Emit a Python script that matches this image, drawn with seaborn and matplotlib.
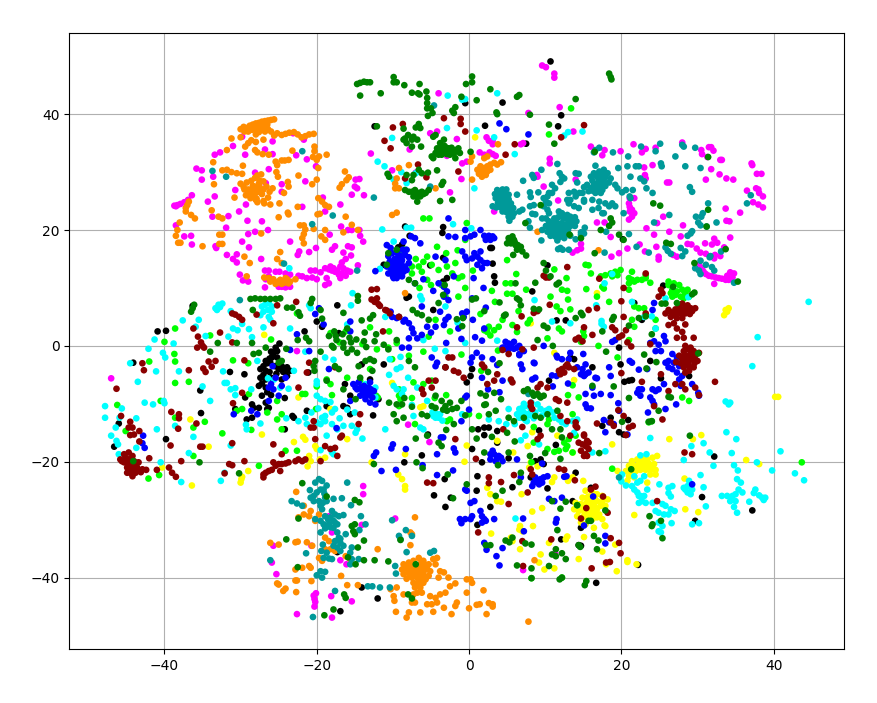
import pandas as pd
import seaborn as sns
import matplotlib.pyplot as plt

# points, one list per class, (x, y)
black = [(-25.4,-0.3),(-25.7,-1.2),(-25.2,-0.9),(-25.9,-2),(-25.2,-2),(-26.7,-2.6),(-26.1,-2.9),(-27.4,-4),(-26.7,-4.3),(-24.6,-3.5),(-23.9,-3.7),(-23.5,-4.3),(-24.1,-4.3),(-27.4,-5.5),(-26.7,-5.8),(-27.6,-6.9),(-26.7,-7.2),(-27.2,-8.6),(-26.7,-9.8),(-26.3,-10.7),(-23.9,-5.2),(-24.6,-5.8),(-24.2,-9),(-29.4,-8.9),(-28.5,-10.1),(-28.3,-10.7),(-26.5,-10.9),(-27.6,-10.7),(-29.2,-12.7),(-28.5,-12.4),(-23.2,-12.1),(-23,-12.4),(-24.2,-14.4),(-30.7,-10.9),(-29.5,-4.9),(-31.4,-4.5),(-35.3,-7.7),(-35.2,-11.6),(-39.8,-16.1),(-46,-13.4),(-46.6,-17.4),(-44.1,-2.9),(-21.1,-4.6),(-21.3,-11.2),(-18.7,-10.4),
(-16.3,-6.6),(-15.6,-8.6),(-16,-10.7),(-15.6,-11.8),(-16.5,-10.4),(-13,-5.8),(-12.6,-12),(-14.1,-3.2),(-11.9,-9.2),(-11.2,-3.2),(-8.5,-20.1),(-6.2,-18.9),(-4.6,-25.8),(-3.1,-27.8),(-3.2,-23),(-2.4,-26.2),(-14.1,-41.7),(-12,-43.6),(-16.9,-45.8),(-17.3,-35.6),(-5.4,-15.3),(-3.1,-3.7),(-0.3,-6.3),
(-40.9,2.5),(-39.8,2.6),(-36.3,6.9),(-12.4,37.9),(-0.5,41.9),(-3.4,20.5),(-3.5,19.5),(-8.4,20.6),(-9.3,17),(-8.8,17.5),(-7.8,19),(-11.2,14),(-2.9,11.7),(-3.4,15.2),(-3.4,11.1),(-5.1,13.9),(-4.7,6.2),(-21.6,2.5),(-20,4.2),(-19.3,3.3),(-17.3,7),(-24.9,0.4),(-9.2,5),(-8.2,8.3),(-7.9,8.5),(-17.1,2.2),
(10.7,49.1),(4.4,42),(12.1,39.8),(11.7,37.9),(2.1,38),(7.5,34.9),(2.8,16.9),(3,16.9),(3.1,14.2),(3.4,10.9),(8.3,9.4),(10.3,13.9),(20.2,18.4),(25.5,10.4),(21.7,7.4),(11.5,4.4),(12.7,4.4),(22.7,4.5),(3.3,12),
(19.7,-0.3),(19.9,-3.2),(20.4,-6.2),(21,-6),(21.4,-5.9),(23.8,-2.6),(25.2,-5.6),(28.9,-5.2),(32.2,-19.1),(30.6,-26.1),(37.2,-28.4),(29.7,-30.2),(22.2,-37.8),(16.7,-40.9),(0.4,-4),(0.2,-5.2),(10.5,-6),(13.8,-2.3),(13.3,-2),(16.2,-3.7),
(0.4,-17.8),(1.7,-20.1),(1.1,-22.5),(2.8,-27.8),(1,-25),(1.1,-30.9),(3.7,-16.7),(5.7,-24.4),(8.1,-22.7),(8.7,-19.9),(9.4,-19.6),(9.8,-20.4),(10.3,-24.6),(5.2,-19.4),(2,-15.4),(2.6,-14.1),(2,-14.1),(1.2,-14.4),(3.7,-14.7),(9.2,-14.6),(11.4,-17.1),(17.5,-13.8),(18.6,-12.4),(19.7,-14.9),(20.9,-12.8),(20.3,-15.3),(14.7,-31.4),(12.1,-33.4),(14.4,-34.4),(14.7,-34.5),(14,-21.9),(13.6,-26.8),(16,-24.5),
(-26,-1),(-26.5,-3),(-25.5,-3.5),(-27,-3.5),(-26.2,-4.5),(-25.3,-4.8),(-27,-5),(-26,-5.5),(-25,-4),(-24.4,-4.5),(-27.2,-6.5),(-26.5,-8),(-26,-8.5),(-25.8,-1.7),(-26.2,-2.2)]

magenta = [(-23.1,36.7),(-21.7,35.6),(-25.8,35.3),(-29.8,36.1),(-31,34.5),(-32.7,33.4),(-33.4,33),(-29.4,33),(-26.8,33.9),(-25.8,33.1),(-22.7,32.9),(-21.3,32.2),(-35.8,30.6),(-35.1,30.3),(-33.6,29.2),(-35.1,28.7),(-26.3,30.5),(-28.1,29.9),(-20.1,31),(-26.7,28.1),(-24.6,27.9),(-21.5,28.4),(-24.6,26.6),(-30.7,26.9),(-36.4,26),(-36.9,25.2),(-37.4,24.8),(-37.9,24.5),(-38.3,24.3),(-38.7,24.2),(-38.5,24.1),(-33.4,25.8),(-34.3,24.9),(-29.3,24.4),(-19.2,25.6),(-16.9,24.4),(-21.9,24),(-18.9,23.2),(-14.9,28.7),(-14.4,28.8),(-15,27.5),(-14.7,27.2),(-15.4,26.1),(-13.8,26),(-30.2,23.2),(-31.6,22.4),(-33.7,22.3),(-29.1,21.6),(-27.2,21.5),(-38.5,20.8),(-31.9,20.4),(-29,19.3),(-28.1,19.7),(-26.4,20),(-37.4,18.9),(-36.5,19),(-36.4,17.5),(-33.3,17.2),(-33.2,16.9),(-29.8,18),(-28.9,17),(-31.8,15.7),(-30.5,15.8),(-31,15),(-30.5,14.4),(-27.3,15),(-23.5,18),(-22.5,15.7),(-22.3,16.3),(-21,16.2),(-20.1,16.9),(-18.3,19.2),(-16.8,20.6),(-15.9,20),(-15.4,20),(-14.4,20),(-14.3,19),(-13.9,18),(-17.6,17.2),(-18,16.6),(-15.9,17.2),(-15.4,17),(-16.5,16.1),(-15.5,15.6),(-16.2,15),(-16.7,14.4),(-14.6,13.9),(-30.1,12.3),(-29.7,11.3),(-29,11.1),(-26.8,13),(-26.3,13),(-26.8,10.1),(-25,10.2),(-24.6,10.2),(-24.1,10.1),(-23.5,10.2),
(-20.8,13),(-20.2,13),(-19.5,12.7),(-18.9,13.4),(-18.2,13.7),(-17.8,13.4),(-17.3,13),(-16.9,13.7),(-16.5,13.4),(-16,13),(-16.7,12.5),(-17.1,12.3),(-17.6,12.8),(-18,13),(-18.4,13.2),(-16.2,12.1),(-15.6,12.8),(-16.9,11.7),(-21.9,12),(-21.3,11.7),(-20.6,11.8),(-22.4,12.1),(-18.7,11.7),(-18.9,10.5),(-20,11.5),(-18.4,10.8),(-26.3,12),(-25.4,12.8),(-24.9,12.8),(-24.1,12.5),(-23.5,12.3),(-26.7,11.5),
(-12.9,33.2),(-5.1,36.7),(-4.2,37),(-4,43.6),(-7.8,33.9),(-2.9,32.8),(-1.6,35.7),(-10.1,30.3),(-7,29.9),(-1,28.8),(-2.5,26.5),(-0.9,31.5),(-0.3,31.8),
(9.6,48.4),(10.1,48.1),(11.2,47),(11.2,46.3),(11.9,41.2),(7.8,40.2),(13.7,37),(2.3,36),(2.6,35.4),(3.1,35.4),(3.1,34.8),(6.8,34.8),(7.1,35),(1.4,33.4),(2.7,33.4),(3.1,33.1),(3.5,32.8),(2,33),(16,34.4),(17.8,33.8),(17.5,32.9),(19.9,33.6),(21.6,34.8),(23.2,34),(22.7,33.4),(24.5,34.2),(28,35.1),(30.5,33.8),(30.6,33.1),(31.5,34.3),(31.8,34.3),(32.1,33.7),(31.3,32.6),(33,32.1),(33.2,32.1),(31.8,30.5),(32.9,29.6),(33.8,28.9),(34.7,28.7),(31.1,28.7),(37.1,31.5),(37.2,31.2),(37.8,29.7),(38.4,29.7),(37.7,27.2),(38,27),(38.1,26.4),(36.5,26.8),(38.6,25.8),(37.3,24.8),(38,24.4),(38.6,23.9),(35.6,23),(33.7,23.7),(33.8,21.6),(34.2,21.5),(26,28.2),(26.3,28.2),(25.5,22.3),(24.1,31.2),(23,30.8),(23.1,29.5),(23.2,28.9),(21.7,25.5),(21.1,25.5),(21,24.6),(21.1,24),(21.1,23.2),(21.4,23.5),(21.7,22.9),(21.4,22.3),(21,21.8),(16.8,21.3),(17.8,21.3),(24.7,21.2),(23.3,20.3),(24.3,19.2),(26.3,19.7),(28.1,20.8),(27.8,18.9),(18.6,18.8),(32.2,18.5),(34.3,18.7),(28.7,17.6),(29.2,17.5),(31,17.7),(31.9,17.5),(32.6,17.8),(22.4,17.5),(20.8,16.8),(23.1,16.3),(24.6,17.1),(24.9,15.4),(24.9,14.9),(26.8,15.7),(27.3,15.4),(29.9,16.8),(30.4,16.1),(31.1,15.9),(32.3,15.7),(32.2,15.1),(33.5,17),(33,15.5),(18.7,15.4),(19.7,16),(14.7,17.6),(14.7,16.8),(14.2,16.5),(13.6,16.1),(9,29.2),(8.9,29.5),(9.8,27.5),(11.7,25.1),(14,28.7),(10.6,32.3),(10.6,31.5),(3.3,23.2),
(30.6,13.4),(30.8,12.8),(31.1,12.4),(31.5,12.1),(31.9,12),(32.4,11.8),(32.8,11.7),(33.2,11.6),(33.7,11.4),(34.1,11.4),(34.6,11.8),(34.8,12.5),(34.3,12.7),(33.9,12.1),(32.2,10.7),(30.2,14),
(-47,-5.6),(-13.9,-24.2),(-13.9,-25.6),(-9.7,-29.8),(-14.1,-30.9),(-25.7,-34.5),(-20.7,-34.5),(-25.9,-37.4),(-25.3,-39.4),(-16.9,-37),(-16.1,-37.7),(-20.4,-43.1),(-20.1,-42.7),(-20.3,-43.7),(-20.2,-44.2),(-20.3,-45),(-18.1,-43.2),(-15.4,-44.1),(-22.6,-46.3),(-18,-46.9),(-22.6,-0.9),(-8,-13.6),(-5.2,-16.6),(-18,-32.2),(-18.4,-29.4),(7.1,-38.7),(11.3,-35.8)]

yellow = [(21.4,-19.9),(22.1,-19.6),(22.7,-19.3),(23.4,-19.6),(24.1,-19.3),(24.7,-19),(21,-20.7),(21.7,-20.7),(22.3,-20.4),(23,-20.4),(23.6,-20.3),(24.3,-20.4),(20.6,-21.6),(21.2,-21.6),(21.9,-21.6),(22.5,-21.4),(23.2,-21.4),(23.8,-21.4),(24.5,-21.4),(21,-22.5),(21.7,-22.7),(23.8,-22.2),(24.5,-22.2),(20.8,-23.3),(19.5,-21.6),(23.6,-21),(23.4,-23.6),
(15.3,-25),(16.2,-25.3),(16.8,-25.6),(17.5,-25.9),(14.9,-26.2),(15.5,-26.2),(16.2,-26.5),(16.8,-26.8),(17.5,-26.8),(18.2,-26.5),(14,-27.1),(14.7,-27.3),(15.3,-27.3),(16,-27.6),(16.6,-27.9),(17.3,-27.6),(17.9,-27.6),(13.8,-28.2),(14.4,-28.5),(15.1,-28.5),(15.7,-28.8),(16.4,-28.8),(17.1,-29.1),(14.2,-29.4),(14.9,-29.6),(15.5,-29.6),(16.2,-29.9),(16.8,-29.6),(14.7,-30.5),(15.3,-30.8),(16.4,-31.4),(17.9,-31.1),(17.5,-29.9),
(33.7,6.2),(34.1,6.5),(33.9,5.9),(33.5,5.3),(8.1,3.9),(0.8,36),(16.8,9.1),(40.2,-8.8),(40.6,-8.8),(26.3,-16.1),(29.4,-16.1),(30.5,-15.4),(36.4,-19.7),(38.1,-20.4),(28.3,-22.9),(28.4,-28.2),(30.1,-28.7),(21.7,-29.2),(18.8,-17),(15,-23.3),(6.7,-31.1),(6.6,-31.7),(7,-32),(8.4,-31.1),(8.3,-28.6),(9.6,-28),(6.9,-25.6),(2.8,-25.6),(2.4,-24.5),(3.7,-26.8),(4.2,-26.9),(13,-23.3),(13.6,-22.7),(11.2,-22.7),(8.1,-20.1),(7.9,-21),(9,-20.8),(10.9,-23.5),(12.9,-32.9),(12.7,-33.4),(10.5,-34),(6.7,-35.1),(2.9,-32.4),(5.7,-33.7),(5.5,-33.1),(9.4,-36),(9.2,-37.4),(9.9,-38.6),(11.2,-38.4),(15.1,-33),(17.8,-31),(17.5,-35.5),(19.2,-34.3),(20.8,-37),(20.8,-37.3),(18,-37.7),(22,-37.7),(19.4,-38.9),(14.4,-36.8),(5.8,-18.4),(11.2,-1.2),(13.8,-5.9),(11.6,-15.5),(13.6,-18.4),(8.3,-14.9),(7.7,-17.3),(3.7,-16.4),
(-27.2,-15.3),(-34.2,-17.4),(-36.6,-12.7),(-40.3,-21),(-36.4,-24.1),(-29.8,-22.6),(-30,-23.6),(-29.9,-23),(-29,-21.6),(-23,-16.6),(-21.8,-15.7),(-21.5,-16.2),(-20.2,-17.3),(-20,-17.8),(-21,-19),(-20.8,-19.9),(-21.2,-20.8),(-18.9,-19.3),(-19.6,-19.6),(-16,-16.1),(-18.2,-10.9),(-22.4,-8.9),(-10.1,-6.4),(-6,-10.4),(-6.4,-10.6),(-12.8,-20.1),(-9.3,-22.2),(-8.8,-23),(-8.4,-18.7),(-8.4,-24.2),(-8.4,-24.8),(-0.6,-20),(-0.3,-17.2),(-26.9,1.9),
(22.5,-20),(23,-20),(22,-21),(22.7,-21),(23.4,-21),(24,-20.8),(21.5,-21.2),(21,-21.5),(15.5,-27),(16,-27),(16.5,-27),(15,-27.8),(15.5,-27.8),(16,-28.3),(16.8,-28.2),(15.2,-29),(15.8,-29.3),(16.5,-29.5),(15.7,-26),(16.5,-26)]

lime = [(26.2,10.5),(26.9,10.8),(27.6,10.5),(28,9.7),(28.4,9.1),(26.7,9.7),(27.3,9.4),(26.2,11.1),(26.5,9.1),(27.1,8.8),(27.8,8.5),(28.2,8.2),(28.9,8.5),(28.7,9.7),(26.7,8.5),
(17.3,12),(17.9,12.2),(18.6,12.5),(19.2,12.8),(19.9,13.1),(19.5,12.2),(18.8,12),(21,11.7),(21.4,11.4),(22.1,11.4),(22.7,11.4),(23.2,11.7),(21,10.8),(21.7,11.1),(23.8,10.9),(21.4,12.8),(21,9.7),(17.7,9.9),(17.5,10.2),(23.2,12.2),
(10.5,36.5),(13.4,41),(15.3,14),(15.7,13.9),(16,12.5),(11.2,13.2),(6.2,12.4),(5,14.8),(4.8,10.8),(5.5,10.8),(7.5,9.7),(5,9),(5.7,9),(12.8,11.7),(12.2,9.7),(12.9,9.5),(13,8),(15.4,9.8),(10.7,8.5),(11.5,6.8),(13.3,6.3),(18.4,7.6),(16.8,8.5),(21.7,6.8),(22.3,6.5),(23,6.5),(21.4,4.5),(21.7,3.3),(24.5,4.5),(24.5,3),(11.8,3),(12.2,2.5),(10.3,1.3),(15.1,1.7),(14.7,0.7),(3.4,7.6),(4.4,4.5),(2.6,3.3),(3.3,2.7),(2.4,2.4),(2.8,1.8),(2,2.7),(3.9,3.3),(5.7,3.6),(6.3,2.4),(7.7,3.9),
(-6,22),(-5.2,22),(-8.4,16.6),(-9.2,16.3),(-8.8,16),(-7.5,13.7),(-6.6,13.7),(-6.2,12.8),(-7.5,12.5),(-5.5,15.4),(-4.2,17.1),(-4.9,14),(-4,13.1),(-2.9,13.7),(-1.8,14.3),(-2.2,12.5),(-0.9,12),(-5.5,11.4),(-3.6,10.5),(-1.4,11.7),(-3.1,8.5),(-1.4,8.5),(-4.4,4.5),(-5.3,1.6),(-0.3,21.2),(-0.5,18.3),(-34,1.8),(-38.6,3),(-40,0.7),(-26,1.1),(-22.6,5.6),(-18.2,2.2),(-16.2,2.5),
(-42,-2.7),(-38.7,-1.4),(-38.6,-2.7),(-40.5,-9.5),(-46.2,-10.2),(-38.6,-6.4),(-36.8,-6.2),(-38.6,-12.4),(-36.2,-14.1),(-34.7,-13.1),(-32.4,-15.1),(-45.1,-14.7),(-42.1,-22.9),(-40.7,-22.3),(-36.2,-19),(-27.6,-20.7),(-24.1,-18.1),(-22.6,-18.1),(-28.9,-8.3),(-29.8,-10.9),(-30.5,-11.2),(-26.5,-11.5),(-25.2,-9.5),(-24.6,-11.8),(-25.2,-12.7),(-24.6,-14.4),(-28.6,-14.5),(-21.9,-8.3),(-21.5,-8.3),(-18,-8.5),(-20.1,-10.9),(-18.7,-5.8),(-18.2,-6.6),(-14.3,-6),(-12.2,-8.6),(-12,-8.9),(-9.2,-7.5),(-9,-9.2),(-9.2,-8.6),(-9.2,-10.4),(-7.3,-6.3),(-6,-6.6),(-4.9,-6),(-2.9,-13),(-2.5,-12.7),(-10.1,-2.3),(-10.6,-0.3),(-12.1,-0.6),(-7.9,-1.7),(-7.1,-13.5),
(12.5,-16.7),(12.9,-17.3),(11.8,-18.1),(11.2,-18.3),(10.3,-17.8),(12.7,-17.8),(13.6,-18.4),(13.1,-16.1),(18.8,-21.2),(43.7,-20.1),(10.5,-12.7),(10.3,-13.5),(13.6,-11.8),(14.4,-8.9),(13,-8.5),(1.6,-4.3),(1.3,-12.1),(0,-11.8),(8.2,-20.1),(14.2,-27.5),(8.2,-40.1),(12.2,-40),(28,-8.9),(28.9,-9.5),(23.6,-13.2),(24,-13),(8.5,-16.7),(13.6,-6.8),
(-7,15),(-6,14.5),(-6.5,10),(-5,10.5),(-3,16),(-1.5,16.5),(-0.5,10),(0.5,13),(3,9.5),(1.5,5.5),(-2.5,2.5),(-9.5,0.5),(-10.5,2.5),(-14,0.3),(-17,0.6),(-13,3.2),(-1,-1.5),(-6,-1),(3.8,-0.8),(6.5,6),(8,4.5),(12,6),(15,2.5),(17,0),(19.5,-2),(21,1),(-4.5,-9),(-7.5,-9),(-3,-8.5),(-13,-4),(-16,-5.5),(-20,-7),(8.5,-14),(14,-15.5),(-29,-3),(-31,-2.5)]

cyan = [(-27.2,6.8),(-26.8,7.1),(-26.3,7.4),(-25.9,6.8),(-27,5.9),(-26.4,6.2),(-25.9,5.9),(-26.3,5),(-27.4,5.3),(-26.1,4.5),(-33.3,6.5),(-32.9,7.1),(-32.4,7.3),(-33.1,6.2),(-32.7,6.7),(-31.3,6),(-29.8,3.8),(-30.4,2.7),(-31,3),(-28.9,2.9),(-28.5,1.5),(-37.6,4.4),(-35.5,4.5),(-35.9,3.3),(-41.3,1.1),(-38.8,0.4),(-34.6,1.7),(-31.6,1.6),(-27,3.2),(-23.5,3),(-20.8,6.5),(-21,7),(-15.3,9.1),(-6.4,8.6),(-6.2,8),(-10.1,35.9),(-12,31.8),(-11.1,31),(-2.9,37.6),(-2.8,43.2),(-0.9,42.5),(-0.5,42.6),(-11.4,20.1),(-8.2,20.4),(-7.6,20.4),(-2.1,21),(-23.6,13.4),(-7,29.8),(-8.9,30),(-9.9,28.7),(-8.2,28.1),(-11.7,13.3),(-9.9,18),(-3.1,6.8),
(3.7,43.6),(1,37.2),(3.3,36),(14.9,37),(13,36.9),(12.5,36.3),(6,33.1),(0.7,27.2),(0.3,20.3),(18.8,12.4),(17.8,10.8),(8.6,7.9),(21.4,7.6),(16.7,7),(17.4,4.3),(17.4,3.8),(17.7,3.3),(23,5),(24,5.1),(25.8,8.2),(28.8,8.4),(24.5,3),(44.6,7.6),(37.9,1.5),(10.9,4.2),(13.3,3.9),(3.7,0.9),
(-47.8,-10.4),(-47.8,-12.4),(-47,-15.5),(-46.4,-14.1),(-46.3,-16.4),(-46.1,-17),(-46,-18.7),(-43.7,-17.6),(-43.5,-6.2),(-45.6,-10.8),(-45.9,-12.4),(-43.7,-12.5),(-42.6,-9.8),(-41.5,-10.1),(-40.1,-9.5),(-40,-9.9),(-41,-14.4),(-41.1,-4.4),(-44.5,-3),(-42.1,-0.5),(-40.2,-1.2),(-39.9,-2),(-38.1,-4.4),(-38.6,-13.8),(-36.2,-15.7),(-36.8,-18.5),(-40.5,-20.1),(-37.8,-23.5),(-32.6,-23.3),(-32.1,-21.9),(-31.3,-17.2),(-32.3,-4.4),(-32.1,-6.4),(-31.8,-6.4),(-31.3,-7.5),(-30.7,-7.3),(-28.6,-7.5),(-30.7,-8.5),(-29.3,-13.6),(-29.2,-14.4),(-27.4,-13.4),(-27.8,-2.6),(-26.4,-5.6),(-25.6,-5.8),(-24.8,-7.2),(-23.7,-7.4),(-20,-8.6),(-19.5,-9.2),(-18.9,-9.5),(-18.2,-9.7),(-17.6,-10.9),
(-20,-13.2),(-19.3,-12.4),(-18.9,-12.1),(-19.5,-13.5),(-18.9,-13),(-18.7,-15.5),(-21.5,-12.4),(-22.4,-13),(-21.3,-13.5),(-18,-13.5),(-17.3,-14.4),(-16.5,-13.8),(-15.4,-13.8),(-14.9,-15),(-14.7,-14.4),(-19.5,-18),(-18,-18.4),(-17.8,-18.7),(-20,-6.1),(-20,-6.6),(-18.9,-2),(-17.8,-2.4),(-13.6,-6.6),(-12.3,-7.2),(-12.3,-8.9),(-11,-14.4),(-10.4,-2.3),(-9,-1.9),(-9.5,-4),(-9,-3.7),(-9.9,-6.9),(-9.5,-7.5),(-8.6,-7.5),(-8.8,-8.3),(-7.3,-12.1),(-6.4,-14.1),(-6,-14.4),(-4.7,-12.1),(-4.2,-11.8),(-3.8,-11.8),(-4.4,-12.4),(-4,-12.4),(-0.9,-11.8),(-3.1,-0.9),(-6.8,-7.2),
(6.6,-10.9),(7,-10.7),(7.4,-10.4),(6.3,-11.8),(6.8,-11.5),(7.2,-11.5),(7.7,-11.8),(8.1,-10.9),(9,-10.1),(9.4,-10.9),(8.7,-11.5),(10.1,-11.2),(10.5,-10.9),(7,-12.4),(7.4,-12.8),(6.6,-12.4),(11.2,-12.4),(11.8,-12.7),(12.2,-13.2),(12.7,-13.5),(13.6,-13),(14.2,-12.7),(13.8,-15),(7.4,-15.5),(6.8,-16.3),(9.2,-17),(16.2,-18.4),(17.9,-18.2),(3.9,-13),(4.9,-13.5),(2.6,-12.7),(5.2,-10.9),(6.1,-29.8),
(20.1,-22.2),(19.9,-22.7),(20,-23.4),(20.6,-24.1),(21.4,-24.2),(21.7,-24.8),(22.1,-25.3),(22.5,-25.9),(22.7,-26.8),(23.2,-27.1),(22.3,-27.1),(22.1,-23.6),(22.5,-23.3),(23,-22.5),(23.4,-24.8),(24.1,-27.1),(22.3,-25.9),(23,-25.9),(22.5,-18.9),(23.3,-18.7),(21.7,-22.5),(25,-23.9),(26.2,-24.5),(26.7,-24.2),(26.2,-25.4),(26.5,-26),(25.4,-27.3),(25.8,-27.6),(26.5,-28.2),(27,-28.5),(24.5,-28.5),(24.9,-28.8),(25.6,-29.1),(26.2,-29.1),(26.6,-30.6),(24.9,-30.5),(25.4,-31.1),(24.9,-32),(25.2,-32.2),(28.2,-24.5),(28.7,-24.2),(28.4,-24.8),(28.7,-25.3),(29.1,-25.6),(29.3,-24.8),(28.9,-23.3),(30.4,-22.3),(30.8,-24.4),(31.1,-27.7),(29.3,-30.8),(30.2,-30.6),(23.8,-15.9),(29.2,-17.3),(30.8,-16.8),(31.6,-18.4),(33.8,-14.9),(35.1,-16.1),(34.5,-18.5),(28.2,-19.7),(32.1,-20.7),(34.8,-20.6),(35.3,-21.5),(37.8,-20.1),(39.8,-21.5),(42.8,-22),(44,-23.2),(40.9,-18.2),(37.2,-3.5),(33.7,-9.6),(34.3,-9.8),(34.1,-10.1),
(35.2,-23),(35.7,-23.6),(35.9,-25.3),(35.4,-24.8),(35,-25.6),(34.6,-25.9),(33.9,-25.9),(33.2,-25.9),(34.3,-26.8),(35,-26.8),(34.8,-27.8),(35.2,-28.8),(37.6,-24.8),(37.4,-25.4),(36.8,-26.9),(38.1,-25.8),(38.5,-26.2),(38.9,-26.2),(38.7,-26.6),
(-18,-11.5),(-19.8,-10.8),(-20.7,-11.5),(-17,-12.5),(-16,-11),(-15,-11.5),(-14,-16),(-10.5,-5),(-8,-5.5),(-7.5,-10.2),(-5.5,-9.5),(-24,-12.5),(-35,-7),(-34,-9.5),(-21.5,-1),(-23,-4.3),(7.6,-13),(8.5,-12.5),(8,-12),(6,-13.5),(7.2,-10),(8.2,-9.8),(9.6,-12),(11,-11.5),(-15.5,7),(-16,3.7),(-11,5),(-6,1),(-1.5,4),(-4.5,-0.5),(-0.5,0.5),(5.5,-6),(-3.5,-12.9),(-4.8,-11.5)]

blue = [(-10.8,17.4),(-10.3,16.9),(-8.6,18),(-8.2,16.6),(-8.4,15.7),(-8.8,14.8),(-9.5,15.1),(-10.1,14.3),(-10.8,13.7),(-10.3,13.4),(-9.7,13.7),(-9,14),(-8.4,13.7),(-7.9,14.3),(-10.6,12.5),(-9.9,12.5),(-9.2,12.8),(-8.6,12.8),(-8.2,13.1),(-9.5,11.7),(-8.8,12),(-9.9,11.7),(-9.2,14.3),(-10.1,16),(-7.9,15.3),(-9.5,13.4),(-8.8,13.4),(-9.5,12.4),(-9.2,13.5),(-9.7,14.4),
(-9.5,14),(-9,13),(-10,13),(-9.8,15),(-9,15.5),(-8.9,14.5),(-10.4,14.6),(-10.6,15.5),(-9.4,16),(-8.7,16.6),(-10,12),
(-12.3,12.9),(-2.7,22),(-2.7,18.9),(-1.8,18.8),(-0.5,20),(-0.5,18.6),(-7.6,18.9),(-6.4,17.7),(-7.1,18.6),(-4.4,15.4),(-3.1,14.8),(-0.5,15.4),(-0.9,16.3),(-0.3,14.8),(-6,11.5),(-7.1,10.8),(-4.7,9.5),(-3.3,10.2),(-2.9,9.4),(-3.3,8.5),(-2.7,7.9),(-0.9,5.6),(-0.3,5.9),(-0.7,5),(-3.8,5.9),(-2.7,5),(-3.1,4.5),(-3.3,3.6),(-4.4,3.3),(-1.4,3),(-8.4,4.5),(-7.9,3.9),(-7.5,3),(-7.3,2.2),(-7.9,1.3),(-6.8,1.3),(-6.2,6.8),(-5.5,3.3),(-6.2,1.9),(-10.3,5.9),(-10.1,5),(-9.5,4.8),(-8.6,4.2),(-15.6,4.2),(-15.6,2.5),(-19.1,3.7),(-20.2,5.5),(-19.7,6.5),(-22.6,2),
(1.5,20),(0.7,19.2),(2,19),(2.6,19),(3.1,18.9),(2.2,18.3),(2.8,18.3),(0.7,16),(1.5,16.3),(1.1,15.4),(0.4,15.1),(1.5,14.8),(2,14.3),(1.7,13.4),(1.1,14),(2.4,14.3),(0.2,18.9),(3.3,18.6),(0.6,11.7),(1.9,10),(0.4,8.2),(2.2,6.6),(0.8,1.5),(1.7,0.9),(4,38.4),(4.9,37.4),(7.8,36.5),
(4.8,0.7),(5.2,0.4),(5.9,0.7),(6.6,0),(4.6,-0.3),(5,-0.6),(5.5,0),(5.9,-0.5),(6.3,-0.3),(6.6,-1.6),(8.6,-3),(24.3,7.4),(24.1,6.2),(19.2,1),(18.8,0.7),(25.6,1.7),(25.8,0.8),(24.3,0.8),(23.8,0.5),(24.9,0.2),
(24.5,-0.9),(25.2,-0.9),(26.7,-1.4),(27.3,-2),(26.2,-2.6),(26.9,-2.9),(27.6,-3.5),(26.7,-4),(27.3,-4.6),(28,-5.2),(26.2,-3.7),(28.2,-3.5),(25.8,-2.9),(27.6,-5.8),(25.6,-6.6),(24.1,-7.5),(24.5,-7.8),(24.9,-7.5),(22.3,-7.5),(22.7,-7.5),(22.1,-8.1),(22.5,-8.6),(23.8,-8.9),(24.1,-9.5),(24.3,-10.1),(27.2,-10.1),(25.8,-10.9),(23.5,-11.5),(21.1,-2.6),(21.4,-2.9),(22.3,-4.1),(23.4,-4),(30.2,-8.6),(30.1,-8.1),(27.8,-6.9),(29.3,-6.6),
(14.2,-3.7),(14.9,-4),(15.3,-3.2),(14.7,-4.9),(15.3,-4.9),(15.1,-5.2),(15.7,-4.6),(16.6,-5.5),(16.8,-5.6),(16.2,-7.2),(15.3,-8.3),(16.4,-8.6),(17.3,-8.3),(18.6,-8.5),(18.4,-3.7),(18.6,-5.2),(19.6,-9.9),(19.7,-11.2),(17.7,-12.8),(18.4,-13.2),(19,-13.5),(17.9,-14.9),(20.8,-15.3),(15.5,-10.7),(16,-10.8),(15.3,-10.1),(13.1,-2.3),(12.2,-2.3),(11.6,-2),(11.5,-5.2),(10.9,-5.1),
(4.4,-0.3),(5.2,-0.6),(7.2,-0.9),(6.6,-1.4),(8.5,-2.9),(6.8,-3.2),(7,-4),(8.7,-5.5),(8.3,-5.8),(4.4,-6),(3.7,-3.3),(1.7,-5.5),(0.4,-2),(0.2,-2.9),(1.7,-2),(3.1,-2.3),(1,-1.2),(9.8,0),(11.5,-1.7),(15,-1.4),(13.3,-1.2),
(2.8,-18.7),(3.3,-18.7),(3.7,-19.3),(4.2,-19.3),(2.8,-19.6),(3.5,-19.9),(4.4,-19.9),(3.1,-18.1),(3.9,-19),
(8.5,-23.6),(9,-23.3),(9.4,-23),(9.8,-22.7),(10.3,-22.5),(9.2,-23.9),(8.7,-22.7),(8.3,-24.2),(9.6,-23.6),(12.5,-22.6),(12.8,-22.5),(10.5,-26.4),(11.2,-26.8),(11.5,-29.9),(11.4,-30.5),(7.1,-29.8),(7.2,-32),(6.3,-19.6),(6.8,-22.7),(9.6,-20.3),(12.2,-26.2),
(0.7,-26.8),(0.2,-27.1),(1.5,-28.5),(0.4,-29.4),(0.2,-29.9),(1.7,-29.4),(2,-29.9),(2.2,-30.2),(1.7,-30.5),(3.3,-29.9),(2,-34),(2.3,-35.2),(4.4,-34.9),(3.6,-36.3),(4,-37.9),(17.9,-32.8),(17.9,-34.1),(15.1,-31),(16.3,-26),(29.3,-23.9),
(-15.2,-6.6),(-14.5,-6.3),(-13.8,-6.9),(-13.2,-7.2),(-12.5,-7.8),(-14.7,-7.5),(-14,-7.8),(-13.4,-8.3),(-12.7,-8.9),(-13,-9.8),(-12.3,-10.1),(-14.9,-7.2),(-15.6,-9.5),(-14.3,-8.6),(-13.6,-9.2),(-13,-6.3),(-13.8,-7.7),(-13.2,-8),(-14.2,-7.2),(-13.7,-8.6),(-13,-8.5),(-13.4,-7.5),(-12.9,-7.5),
(-25.8,-3.5),(-26,-6.6),(-26.3,-7.2),(-25.4,-5.5),(-25.7,-7.5),(-25,-8.6),(-26.3,-9.5),(-24.1,-5.5),(-24.6,-6.9),(-28.6,-11.2),(-30.9,-11.8),(-27.8,-11.8),(-42.8,-15.5),(-42.9,-16.8),(-42.6,-17.6),(-18.4,-4),(-17.4,-14.2),(-23.5,-0.7),(-21,-0.9),(-8.8,-0.3),(-7.9,-0.3),(-4.9,-2),(-4.2,-2.9),(-4.4,-3.5),(-0.5,-8.9),(-0.3,-8.6),(-10,-17),(-10.2,-17.7),(-12.2,-18.4),(-12.5,-19),(-11.5,-21.6),(-9.6,-21.4),(-8.3,-17.8),(-4.2,-18.7),(-2,-17.7),(-1.8,-18.4),(-6.1,-20.6),(-4.2,-22.3),(-2.1,-21.5),(-0.5,-24.8),(-0.3,-25),(-1.2,-29.9),(-0.5,-29.9),(-1,-30.6),(-3.4,-15.8),(-3.7,-15.8),
(-4,10.8),(-2,12),(-5,2.3),(-1,1.2),(-3,0.5),(2,3),(0.5,4.5),(2.5,-7.5),(0,-11),(-1,-13),(4,-8),(11,-7),(13,-6.5)]

orange = [(-30,37.4),(-29.6,37.8),(-29.2,37.6),(-28.8,38),(-28.4,38.2),(-28,38.4),(-27.6,38.5),(-27.2,38.7),(-26.8,38.8),(-26.4,38.9),(-26,39),(-25.6,39.1),(-29.5,37),(-29,37),(-28.5,37.3),(-28,37.6),(-27.5,37.8),(-27,37.9),(-26.5,38.2),(-28,36.5),(-27.6,36.9),(-27.2,37.3),(-26.4,37.4),(-26,37),(-25.2,36.7),(-25.6,36.3),(-24.6,36.4),(-24.1,36.6),(-23.6,36.8),(-23,36.9),(-22.5,36.5),(-22,36),(-21.5,36.2),(-21,36.5),(-20.4,36.6),(-28.6,35.5),(-28,35.2),(-31.2,35.8),(-30,36),(-29,35),(-27,35.6),(-27.5,38),(-28.2,37.8),(-27,38.3),(-26.5,38.6),(-29,37.5),(-27.8,37),(-26.8,37),
(-30,28),(-29.6,27.4),(-29.2,28.2),(-29,27),(-28.6,28.5),(-28.4,27.6),(-28.1,29),(-27.8,29.4),(-27.6,28),(-27.3,29.6),(-27,28.4),(-28.8,26.5),(-28.2,26),(-27.9,25.4),(-27.5,26.6),(-27,27),(-26.6,27.5),(-26.2,26.6),(-25.8,27.2),(-26.4,25.6),(-27.8,24.8),(-29.3,26),(-28.7,25.5),(-26.9,24.6),(-26.1,24.4),(-27.9,27),(-28.2,27.5),(-27.5,27.4),(-27.9,26.5),(-27.5,28.5),(-28.5,27),(-29.5,27),(-27.2,26.2),
(-31.8,33.8),(-29.4,34.4),(-28.1,33.8),(-27.8,33.4),(-27.1,33.1),(-26.3,33),(-25.4,31.8),(-25.2,31.2),(-24.6,32),(-24.2,32),(-23.7,32.1),(-23.2,33.7),(-20.3,34.4),(-20.3,33.6),(-20.5,32.6),(-19.7,32.7),(-18.7,33),(-19.8,30.7),(-20,32.1),(-33.6,31.7),(-29.7,31.1),(-32.4,30.3),(-31.8,30.4),(-31.2,30),(-30.5,29.8),(-29.8,29.7),(-25.3,30),(-25.1,29.2),(-33.5,27.9),(-30.8,25.6),(-28,25.2),(-27,25),(-23.8,28.3),(-23.7,27.5),(-24.3,26.4),(-22.4,29.4),(-20,28.7),(-20.6,27.9),(-16.3,30.1),(-15.8,29.1),(-16.1,28.6),(-16.7,27.9),(-17,27.3),(-19.8,25.5),(-19.3,24.9),(-18.9,24.3),(-18.4,24),(-24.9,24.6),(-22.5,24),(-19.9,22.7),(-19.6,22.8),(-23.8,23),(-23.7,22.7),(-25,22.2),(-16.2,22.3),(-36.8,24.9),(-37,24.3),(-37.2,23.8),(-37.2,23.2),(-33.8,23.4),(-36.5,22.6),(-36,22),(-32.9,22.3),(-32.4,22),(-38,21.3),(-38.3,20),(-38.5,19),(-38.2,17.8),(-37.9,17.8),(-35,17.2),(-32.8,19.2),(-32.4,19.2),(-32.8,17.6),(-32.4,17.6),(-27.3,19.4),(-22.2,20.8),(-21.7,20.8),(-21.5,20.1),(-21.7,19.3),(-21.9,18.6),(-21.7,17.7),(-20.4,20.2),(-18.9,20),(-19.4,18.9),(-18.9,18.3),(-16.5,19.6),(-15.4,20.9),(-14.6,20),(-24.8,16.2),(-25.2,15),(-24.6,14.3),(-29.5,15.4),(-28.8,14.3),(-29.2,12),
(-26.9,11.8),(-26.1,11.1),(-25.7,11.5),(-25.2,10.9),(-24.8,11.4),(-24.3,10.9),(-23.9,11.5),(-23.5,11.1),(-22.8,11.5),(-25.4,10.7),(-24.6,10.7),(-26.3,11.7),(-24.1,11.7),(-24.5,11),(-25,11.1),(-23.7,10.8),(-24,11.3),
(-10.1,22.6),(-9.5,23),(-9.5,28.9),(-9.7,28),(-9.7,27.2),(-9.2,27.2),(-7.9,31.2),(-9.2,30.7),(-4.4,27.2),
(1.1,30.4),(1.5,30.1),(2,30.7),(2.4,31),(2.8,31.3),(3.3,31.6),(3.7,31.3),(4.2,31.7),(1.7,29.2),(2.4,30.1),(2.8,30.4),(1.3,29.7),(2,32.4),(2.4,32.7),(0.4,32.7),(0.2,31.8),(0.4,28.7),(1.5,31),(1.8,29.8),(2.2,29.5),(3.8,34.8),(9,19.7),(17,16.5),(-8.4,9.1),
(-8.6,-37.7),(-7.9,-37.4),(-7.3,-37.1),(-6.6,-36.6),(-6,-37.1),(-5.3,-37.7),(-8.8,-38.6),(-8.2,-38.5),(-7.5,-38.3),(-6.8,-38),(-6.2,-38.1),(-5.5,-38.5),(-5.1,-38.9),(-8.6,-39.4),(-7.9,-39.3),(-7.3,-39.1),(-6.6,-39),(-6,-39.1),(-5.3,-39.7),(-8.2,-40.2),(-7.5,-40),(-6.8,-40),(-6.2,-40),(-5.7,-40.3),(-7.3,-40.9),(-6.6,-41),(-6,-40.9),(-7.1,-41.7),(-6.4,-41.7),(-6.8,-42.6),(-6.2,-42.6),(-7.3,-42.9),
(-7,-39.5),(-6.4,-39.6),(-7.8,-38.9),(-6.5,-38.6),(-5.8,-38.6),(-7,-38.6),(-7.6,-39.7),(-6,-39.6),(-7,-37.8),(-6.3,-37.5),(-7.6,-37.9),(-6.6,-40.5),(-7,-41.2),(-5.7,-37.8),(-8,-38),
(-4.7,-36.8),(-4.2,-36.6),(-4.4,-37.7),(-3.8,-38.9),(-3.3,-39.1),(-4,-40),(-2.7,-40),(-2.5,-41.5),(-1.8,-41),(-0.3,-40.3),(-3.1,-42.6),(-3.8,-42.9),(-4.4,-43.5),(-4.2,-44.3),(-4.9,-44.6),(-5.5,-44.6),(-5.1,-43.2),(-3.3,-45.2),(-1.6,-44.3),(-1.8,-44.9),(-2.3,-46.3),(-0.3,-42.6),(-4.7,-45.9),(-6.4,-46),(-7.5,-44.3),(-7.9,-46),(-8.2,-46.9),(-9.6,-45.9),(-9.8,-44),(-9.9,-43.2),(-10.3,-42),(-9.5,-41.7),(-8.6,-42.9),(-7.1,-44.3),(-7.7,-34.4),(-7.7,-32.2),(-7.1,-29.6),(-7.5,-32.5),(-12,-35.1),
(-22.7,-25.2),(-21.7,-27.6),(-21.7,-29.1),(-20.8,-28.5),(-21,-29.4),(-22.4,-29.6),(-19.7,-29.1),(-20.2,-30.2),(-26.1,-34),(-25,-34.3),(-22.8,-33.9),(-22.5,-33.8),(-21.3,-33.9),(-20.6,-34.5),(-18.9,-33.1),(-18.4,-33.7),(-18.2,-35.1),(-18.9,-35.1),(-17.6,-35.4),(-19.7,-36.6),(-19.3,-37.1),(-16.2,-36.3),(-15.6,-36.8),(-21,-38),(-21.9,-38.3),(-22.8,-38.6),(-20.8,-38.3),(-25.2,-41),(-25,-41.2),(-24.1,-41.9),(-24.4,-42.3),(-22.8,-40.5),(-22.6,-40.5),(-20.7,-40.6),(-22.7,-42.5),(-16.8,-39.7),(-16,-41.3),(-14.6,-41.3),
(0.2,-40.3),(0.4,-40.9),(1.9,-42.2),(1,-44.7),(1.4,-44.6),(2.6,-44.4),(3.1,-44.6),(3.1,-45),(2.3,-46.3),(7.8,-47.6),(0,-45.3),(8.6,-37)]

teal = [(3.7,26.9),(4.4,27),(4.9,27),(3.4,26.2),(4,26.4),(4.6,26.2),(5.2,26.1),(3.5,25.5),(4.2,25.5),(4.7,25.3),(5.2,25.3),(3.8,24.7),(4.4,24.6),(4.9,24.6),(5.5,24.6),(3.1,24.1),(3.6,23.9),(4.2,23.9),(4.7,23.8),(5.2,23.8),(5.8,23.8),(4.4,23.2),(4.9,23.1),(5.5,23),(5.9,22.9),(5.2,22.3),(5.7,22.3),(5.3,21.6),(7,23.5),(6.6,23.2),(6.3,26.1),(4,25),(4.5,25.1),(4.7,24.2),(4.3,24.3),(5,25),(4.9,23.5),(5.3,23.3),(4,26),
(11.8,23.2),(12.2,22.9),(12.9,22.6),(13.3,22.3),(13.9,22.2),(11.2,22),(11.7,22.2),(12.4,22),(13,21.8),(13.6,21.5),(14.1,21.5),(10.5,21.5),(11,21.2),(11.6,21.2),(12.2,21.2),(12.8,21),(13.3,20.7),(13.9,20.7),(10.1,20.7),(10.6,20.5),(11.2,20.5),(11.8,20.3),(12.4,20.3),(13,20),(9.6,20),(10.3,19.7),(10.9,19.7),(11.5,19.6),(12.2,19.4),(12.7,19.4),(10.7,19),(11.3,18.9),(11.9,18.8),(12.5,18.6),(11.6,18.2),(9.5,18.2),(12,16.9),(11.7,16.7),(12.3,16.6),(13.1,16.6),(13.3,19),(14.7,19.6),(15.1,19.4),(14.7,19.2),(14,18.4),(15.2,20.4),(11.5,20),(12,20.8),(12.5,20.8),(11,20),(12.3,19.8),(12.9,20.6),(13.4,21.2),(11.6,19),
(16.6,31.1),(17.7,30.4),(17.1,30.1),(18.2,29.8),(16.4,29.8),(17.5,29.7),(16,29.2),(16.8,29.2),(17.9,29.1),(18.6,28.9),(16.2,28.5),(17.1,28.5),(17.7,28.4),(18.4,28.2),(15.5,27.8),(16.4,27.8),(17.3,27.8),(17.9,27.6),(15.1,27.4),(16,27.2),(16.8,27.2),(17.5,26.9),(19.2,27.8),(19.5,27.2),(14.9,26.4),(15.7,26.7),(16.6,26.4),(17.3,26.4),(20.6,26.9),(20.1,26.5),(21.2,25.5),(15.1,25.2),(16.2,25.2),(17.1,24.9),(17.9,24.6),(18.8,24.6),(19.2,24.1),(18.4,24.1),(16.2,23.5),(17,23.8),(17.5,22.9),(17.7,22.9),(20.3,22.9),(19.6,30.7),(20.8,31),(21.9,31),(22.3,31),(21.2,29.2),(22.5,28.9),(23,28.4),(23.3,27.2),(24.1,26.4),(21.5,26.9),(21.1,25.8),(16.5,28),(17,28),(17.5,28.5),(16.5,27),(17,27.5),(17,29),(17.6,29.3),(16.2,26.8),
(7.1,28.5),(8.3,29.5),(8.5,29),(9.5,30.4),(11.6,31.4),(8,26.5),(8.1,25.7),(9.1,26.5),(10.5,26.4),(10.9,26.4),(9.8,25.5),(10.3,25.8),(10.9,27.8),(11.3,27.2),(11.9,29.8),(12.2,29.2),(12,28.3),(12.5,28.9),(14,29.8),(14.4,29.7),(14.2,28.2),(13.8,26.6),(13.1,26.4),(12.9,25.2),(13.3,25.2),(14,25.8),(14.5,26.4),(13.1,24.6),(13.8,24.1),(14.4,23.8),(15.1,24.9),(8,24.1),(8.5,24.3),(10.1,24.9),(10.5,24.6),(9.8,24.1),(10.3,23.5),(10.5,22.9),(8.3,22.8),(8.7,22.7),(7.8,21.5),(8,20.4),(9.6,22),(10.1,22),
(17.1,34.2),(16.6,33.8),(16.4,33.4),(18.9,33.4),(20.9,32.7),(22.6,34.4),(25.1,34.9),(24.5,33.6),(25.2,31.5),(25.3,31),(27.1,32.7),(28.4,31),(28,34.7),(28.2,34.4),(29.7,34.2),(30.4,30.7),(29,27.4),(29.3,26.6),(31.4,24.6),(30.7,22.9),(30.5,22.3),(29.8,22.3),(30.1,21.3),(30.4,20.8),(32.5,21.3),(31.2,20.6),(26.3,22.6),(24.3,21.3),(37,26),(36.5,24.6),(29.3,19.8),(29.1,19.4),(28.7,19),(21,19.3),(18,19.7),(22,17.1),(23.6,16.1),(25.8,17),(26.1,16.4),(26.5,15.9),(27.8,16.9),(28.4,16.3),(28,15.5),(31.6,15.3),(31.7,15.5),(33.1,16.3),(29.7,13.4),(30.2,13),(30.4,12.4),(31.1,14),(31.9,13.6),(32.2,13),(30.4,14.7),(34.8,10.9),(17.8,16.1),
(-33.7,30.2),(-31.9,29.2),(-21.9,33.6),(-20.6,21),(-17.9,22.5),(-12.5,25.6),(-24.3,14.2),(-14.7,13),(-30.1,7.9),(-4.6,41.5),(-5.1,27.5),
(-20.2,-23.6),(-19.7,-23),(-19.3,-23.3),(-18.7,-24.1),(-19.1,-24.8),(-19.5,-24.8),(-20,-25.3),(-20.4,-25.9),(-20.8,-26.2),(-20.4,-26.8),(-19.7,-26.8),(-19.2,-27.1),(-19.5,-27.6),(-18.9,-26.2),(-18.7,-26.8),(-19.3,-28.2),(-18.9,-29.4),(-18.2,-29.6),(-17.8,-30.2),(-17.1,-29.4),(-16.5,-29.2),(-17.6,-29.1),(-20.2,-29.9),(-19.5,-30.2),(-19.1,-30.8),(-18.4,-30.8),(-17.8,-31.4),(-17.3,-30.8),(-18.9,-31.5),(-19.5,-32.2),(-18,-28.5),(-17.8,-26.4),(-16.7,-26.3),(-15.5,-27.5),(-14.2,-29.4),(-16,-23.6),(-20.9,-24.9),(-23.3,-26.8),(-22.6,-27.2),(-21.9,-27.6),(-17.3,-32.2),(-17.1,-33.1),(-17.6,-33.7),(-16.9,-34),(-16.5,-34.5),(-16.9,-35.4),(-17.8,-34.5),(-17.3,-34.8),(-19.2,-34.3),(-18.7,-35.7),(-19.4,-35.4),(-19.1,-36.6),(-18.4,-36.7),(-18,-36.8),(-21.4,-35.8),(-26.1,-37),(-20,-39.6),(-19.5,-38.9),(-18.9,-39),(-19.3,-40),(-15.6,-37.7),(-15.4,-36.8),(-15.6,-35.7),(-15.4,-34.8),(-14.5,-36.8),(-13.6,-30.8),(-14.4,-31.8),(-16.2,-32.5),(-10.1,-30.1),(-8.3,-31.8),(-9.2,-32.8),(-7.5,-32.8),(-9,-33.4),(-8.2,-35.6),(-5.1,-35.7),(-4.6,-35.4),(-9.7,-38),(-9.6,-39.3),(-13.3,-41.5),(-12.7,-41.5),(-11.7,-41.7),(-10.4,-41.7),(-17.6,-42.3),(-20.5,-46.8),(19.7,-22.7),(7.8,-8.3),(-19,-25.5),(-18.5,-30),(-18.2,-31.3),(-17.6,-30.5),(-16.9,-33.3)]

darkred = [(-45.3,-18.7),(-44.7,-18.4),(-45.8,-19.6),(-45.1,-19.3),(-44.2,-19),(-45.3,-20.1),(-44.7,-20.1),(-44,-19.9),(-43.4,-20.1),(-44.9,-21),(-44.2,-20.7),(-43.6,-21),(-42.9,-21.3),(-44.5,-21.9),(-43.8,-21.9),(-43.1,-21.8),(-42.4,-21.4),(-44.2,-22.5),(-45.6,-19.9),(-44.9,-21.9),(-44.5,-19.5),(-44.8,-20.6),(-43.9,-20.5),(-44.3,-21.3),(-43.6,-20.2),(-45,-19.8),(-44,-21.3),(-43.4,-21.5),
(-46.3,-7.4),(-42.9,-3),(-42.7,-4.2),(-44.5,-13.1),(-44.7,-14.1),(-44.2,-14.1),(-43.3,-14.7),(-44,-15.3),(-44.5,-15.4),(-45.7,-12.1),(-43.3,-16.5),(-42,-19.4),(-41,-21.4),(-39.4,-21),(-39,-21.9),(-38.5,-22.6),(-39.2,-17.2),(-38.1,-11.8),(-38.1,-12.5),(-39.1,-11.4),(-38.2,-14.3),(-35.8,-13.4),(-37.8,-19.9),(-35.3,-17.4),(-35,-17.4),(-31.1,-16.8),(-36.8,-4.2),(-34.9,-3.9),(-34.6,-4.5),(-33.8,-3.6),(-33.3,-2.6),(-34.2,-2.7),(-35.7,-0.3),(-34.8,-0.3),(-29.5,-2.5),(-31.5,-20.4),(-31.1,-20.6),(-29.5,-19.9),(-32.1,-22),(-31,-9.9),(-29.8,-8.1),
(-27,-22.7),(-26.7,-21.9),(-26.3,-21.6),(-25.9,-21.4),(-25.4,-20.7),(-25,-20.4),(-24.6,-20.4),(-24.1,-20.3),(-23.7,-20.1),(-27,-22.2),(-22.8,-19.9),(-22.4,-19.6),(-21.9,-19.9),(-21.5,-19.6),(-24.8,-21.6),(-25.7,-20.1),(-24.6,-18.7),(-19.5,-19.9),(-20.8,-14.1),(-20.4,-14.1),(-20.2,-16.1),(-25.7,-17),(-18.9,-17.3),(-18.2,-17.8),(-17.6,-17.6),(-16.9,-15.8),(-16.7,-15.5),(-17.3,-19),(-14.5,-13.5),(-14.3,-11.8),(-20.4,-13),(-22.4,-7.2),(-21.3,-4.6),(-21,-2.9),(-17.6,-3.7),(-5.5,-23.6),(-4.7,-23.7),(-1.8,-16.1),(-5.3,-6),(-4.4,-6),(-6.2,-7.5),(-6,-8.3),(-4.9,-7.2),(-2.7,-2),(-2,-4.3),(-1.4,-4.6),(-0.7,-5.5),(-2.2,-2),(-3.1,-3.7),
(-36.2,3),(-35.6,1.6),(-35.2,0.6),(-35,0),(-31.1,5.6),(-30.7,5.4),(-30.2,5),(-29.8,4.5),(-27.9,5.4),(-25.2,7),(-25.7,3.9),(-22.7,7.6),(-11.1,35.4),(-10,37.7),(-8.7,38.3),(-10.3,34.1),(-6.7,31.3),(-5.6,29.1),(-3.3,39.3),(-1.1,39.2),(-1.1,38.3),(-0.5,37),(-1.4,30.1),(-8.4,28.9),(-12.8,9.7),(-12.1,9.8),(-12.8,8),(-12.4,7.6),(-12.1,8.2),(-11.9,7.2),(-11.7,6.9),(-11,6.2),(-10.8,6.1),(-10.4,5.6),(-9.2,5),(-11.3,2.5),(-32.7,2.3),(-31.1,0.6),
(25.8,5.6),(26.5,5),(27.1,5.3),(27.8,5.6),(28.4,5.6),(29.1,6.5),(29.7,6.5),(28,7.3),(28.7,7),(27.6,6.8),(26.9,5.6),(26.2,6.2),(28,4.8),(27.3,4.8),(29.3,6),(28.4,6.5),(27.5,5.9),(28.2,6),(28.9,6),(26.5,5.8),(27.1,6.3),(27.8,6.3),(29,5.5),
(24.9,8.5),(25.2,9.7),(25.4,9.1),(15.1,38.1),(12.1,36),(6,34.8),(4.8,33),(20.3,10),(20,7.7),(23.2,12.5),(17.1,11.6),(12.9,13.6),(10.5,11.8),(10.1,11.8),(9.8,12.1),(9,6),(8.5,5.7),(10.6,7.1),(6.9,5.1),(6.3,3.2),(15.7,6.2),(16.8,6.5),(15.1,3.2),(14,1.1),(14.4,1.4),(14.9,0.8),(16.2,1.9),(20.3,5),(18.8,3.2),(19.2,2.7),(20.6,2.7),(20.1,1.8),(19.7,1.5),(20.8,0.6),(23.8,0.3),(23.2,5.6),(26.2,3.6),(26.9,3.9),(27.3,3),(28.4,3.7),(28,2.4),(27.3,1.4),(28.2,1.4),(29.5,1.4),(28.4,0),
(27.6,-1.7),(28.2,-0.9),(28.9,-0.6),(29.5,-0.9),(30.2,-1.2),(28,-2.3),(28.7,-2),(29.3,-2.3),(30,-2.6),(28.2,-3.7),(28.9,-3.5),(29.5,-3.7),(28.4,-4.6),(29.1,-0.3),(28,-6.6),(27.1,-6.6),(28.4,-7.5),(29.7,-7.2),(30.2,-8.5),(32.3,-6.2),(25.2,-4.9),(26.2,-7.8),(24.3,-10.4),(25.4,-12.7),(22.7,-6.2),(20,-4.7),(19.6,-11.1),(20.3,-12.1),(21.5,-13.8),(21,-14.1),(20.6,-15.4),(21.3,-0.1),(28.5,-2.8),(29,-1.5),(28.8,-2.8),(27.8,-3),(29.7,-1.7),(29.6,-3),(28.3,-1.5),(29.2,-1.2),(27.2,-2.8),(28.9,-4.3),
(12.2,-4),(12.7,-3.5),(13.1,-3.7),(12,-4.9),(12.5,-4.6),(12.9,-3.2),(13.8,-4),(11.8,-4.3),(7,-0.6),(5.2,-1.4),(4.4,-0.7),(8.5,-0.3),
(14.4,-16.7),(15.1,-15.5),(15.5,-16.4),(14.9,-17),(15.3,-17.3),(15.7,-16.7),(14.7,-18.1),(15.3,-18.7),(15.7,-17.8),(15.1,-19),(15.5,-19),(13.3,-15.5),(14,-13.2),(14.2,-14.1),(15.1,-15.3),
(3.7,-4.9),(1.7,-3.2),(2,-3.7),(5.5,-5.8),(5.7,-6.3),(3.3,-6),(2.4,-6.6),(8.1,-9.8),(8.1,-10.4),(8.3,-10.9),(7,-14),(4.5,-14.4),(9.4,-15.5),(9,-16.1),(11.4,-9.2),(11.8,-9.5),(12.9,-9.8),(10.3,-7.2),(9.4,-6.6),(9,-7.2),(12,-12.1),(12.9,-13),(14,-13.8),(16.8,-13.4),(19,-13.8),(18.6,-13.2),(0.9,-19.5),(1.2,-32.2),(5.2,-27.3),(4.2,-23.5),(2.6,-22.7),(2.6,-23.7),(5.9,-22.3),(7.7,-25.3),(8.1,-21.3),(8.3,-22.2),(11.8,-21.2),(12.5,-21.4),(13.9,-23.2),(16,-24.8),(16.6,-24.3),(17.6,-26),(15.4,-28),(18.2,-28.8),(14.7,-29.8),(10.8,-33.4),(7,-33.7),(19.7,-34),(18.6,-33.2),(19.9,-35.8),(18,-37.4),(18.5,-37.3),(16.1,-38.4),(7.1,-38),(24.7,-26.8),(28.3,-18.4),(29.3,-18.7)]

green = [(-14.7,45.2),(-14.3,45.4),(-13.8,45.6),(-13.4,45.5),(-13,45.5),(-14.3,43.2),(-11.6,43.6),(-9.9,46.4),(-9.9,45.5),(-9.5,45.5),(-8.5,45),(-6.5,45.2),(-7.5,43.7),(-6.7,43.6),(-6.5,43.4),(-5.6,43.9),(-5.5,42.8),(-5.5,41.9),(-5,41),(-4.8,40.2),(-5.5,41),(-5.4,39.7),(-2.2,40.6),(-1.8,41.2),(-2,40.2),(-0.4,45.2),(-1,43),(-6.6,38.3),(-7,37.7),(-6.4,37.6),(-8.6,37.5),(-12.1,37.9),
(-8.4,35.8),(-8,36.4),(-7.3,36.1),(-7.5,35.6),(-6.8,35.6),(-8.2,35),(-8.6,35.6),(-7.5,34.4),(-6.3,34.4),(-4.4,36.4),(-4.7,36.1),
(-4.9,32.7),(-4.4,33.3),(-4,33.8),(-3.6,34.4),(-3.1,33.8),(-3.8,35),(-3.3,35.6),(-2.7,34.1),(-2.2,33.6),(-1.8,33.8),(-1.4,34.1),(-1.2,33.3),(-1.8,32.4),(-2.5,33),(-2.9,33.1),(-4.7,32.4),(-4.2,34.1),(-3.6,33),(-3,33.6),(-2.3,34.2),(-3.6,33.6),(-4,33),(-3.2,34.5),(-2,33.2),
(-7.5,26.6),(-7.1,26.9),(-6.6,26.4),(-6.2,26.6),(-5.7,26.4),(-6.8,25.8),(-6.4,25.8),(-7.3,25.8),(-7.9,26.6),(-6.8,24.9),(-5.3,26.9),(-8.4,26.9),(-6.5,26),(-6.9,26.3),(-6,26.2),
(-10.7,29.7),(-10.5,29.2),(-8.2,29.5),(-7.3,29.5),(-7.5,28.6),(-6.6,30.4),(-5.4,29.9),(-4.2,30.3),(-6.2,29.8),(-3.4,28.3),(-3.6,27.8),(-3.8,25),(-2.2,25.2),
(0.4,46.5),(0.4,45.5),(1,42.4),(2.8,44.3),(6.3,43),(6.6,43.3),(3.6,40.3),(3.7,40),(8,39.9),(10.5,38.2),(14,42.6),(18.4,47),(18.6,46.4),(18.7,46),(11.2,34.9),(0.2,33.5),(16.5,33.5),(31.4,32.6),(24.2,24.6),(25.1,24.2),(31.4,23.5),(31.2,20.6),(7.4,21.2),(18.6,22),(18.8,21.3),(18.4,20.7),(17.3,20),(19.7,19.2),(20.3,18.3),(9.4,24.3),(13.2,19.2),(14.7,18.6),(25.9,17.8),(26.5,17.6),(33.7,16.7),(16.5,16),(35.3,11.1),(29.6,14.3),
(5.2,18.6),(5.7,18.9),(5.9,18.3),(5,17.7),(5.5,17.7),(6.1,17.4),(6.6,16.9),(7,16.3),(7.5,15.6),(6.3,16.6),(5.8,15.7),(6.8,17.1),(5.6,18.2),(5.3,18),(6,17.9),(6.4,17.4),
(-28.7,8.1),(-28.1,8.2),(-27.4,8.1),(-26.8,8.1),(-26.1,8.1),(-25.4,8.1),(-24.8,8.2),(-36.3,6.5),(-36.5,5.9),(-36.1,7.1),(-28.4,6.2),(-23.9,6.6),(-23.2,6.6),(-22.4,5.8),(-22.2,5.2),(-20.8,7.4),(-20.6,8.1),(-19.5,6.2),(-16.5,5.7),(-14.6,7.8),(-14.6,8.6),(-14.1,4.4),(-13,4.7),(-12.6,5.3),(-19.3,4.7),(-21.4,1.4),(-21,0.8),(-18.4,1.7),(-17.5,1.7),(-16.6,2),(-15.7,1.4),(-14.8,1.1),(-13.7,2.3),(-12.4,0.8),(-11.2,0.2),(-9.5,1),
(-10.8,14),(-10.6,16),(-9.5,16.6),(-7.1,10.8),(-7.9,11.4),(-6.2,5.3),(-6.8,5.6),(-7.4,6.2),(-5.3,4.5),(-4,7.4),(-3.4,8.8),(-3.2,10.5),(-0.8,4.8),(-1.6,4.6),(-0.9,3.4),
(-28.3,-1.4),(-27.6,-1.2),(-26.7,-0.3),(-25,-2.9),(-24.6,-2.6),(-20.2,-2.6),(-20.4,-3.5),(-20.3,-4.3),(-18.7,-6),(-17.6,-3.5),(-17.1,-4),(-17.8,-0.3),(-16,-1.2),(-15.4,-0.6),(-14.7,-1.2),(-14.5,-3.5),(-13.6,-2.6),(-13,-2.3),(-12.5,-2.6),(-12.7,-4.3),(-14.3,-5.5),(-16.5,-7.5),(-14.9,-9.2),(-7.1,-3.7),(-7.9,-2.6),(-10.6,-0.6),(-9.5,-10.1),(-9.9,-11.8),(-8.8,-10.1),(-9.5,-13),(-8.6,-12.4),(-6.2,-11.8),(-5.5,-12.1),(-4.9,-10.4),(-4.4,-8.6),(-4.4,-10.7),(-3.6,-9.5),(-3.1,-10.4),(-2.2,-10.9),(-1.6,-10.7),(-2.9,-11.2),(-2.5,-9.8),(-4,-16.7),(-3.6,-17.3),(-6.1,-21.1),(-6.9,-20.1),(-12.5,-20.4),(-2.8,-22.2),(-2.1,-26.3),(-0.3,-23.9),
(-44.1,-19.9),(-30.2,-22),(-35.4,-20.1),(-21.9,-23.7),(-18.7,-26),(-15,-26.6),(-14.4,-27),(-22.4,-29.8),(-15.4,-31.1),(-15,-30.8),(-15.2,-32),(-15,-32.5),(-13.8,-33.6),(-14.6,-34.8),(-24,-33.4),(-22.5,-38.2),(-13.8,-37),(-14.9,-37.7),(-12.4,-37),(-15.9,-36.5),(-10.6,-37.2),(-9,-33.5),(-7,-37.7),(-8,-42.9),(-7.5,-43.6),(-16.4,-42.9),(-16.2,-43.5),(-17.8,-45.5),(-19,-46.5),
(9.8,14.3),(10.1,13),(10.7,12),(11.8,10.9),(11.5,10.6),(8.7,10.9),(6.1,10.8),(0.4,8),(0.9,8.2),(6.6,7.9),(6.8,7),(6.3,8.2),(8.5,6.4),(9.2,6.3),(4.6,5.2),(4.8,5.4),(14.7,5.7),(14.9,5.3),(14,4.8),(18.8,4.5),(22.3,4.8),(23.2,5.1),(25.3,7.3),(25.8,7.3),(26.8,10.2),(29.6,9.2),(29.3,8.9),(27.3,7.4),(9.8,3.5),(10.3,3.1),
(24.6,-2.8),(23.3,-3.9),(30.1,-1.3),(16.2,-6.9),(24.9,-11.2),(26.5,-8.9),(26.2,-8.8),(20.1,-13.1),(23.6,-13.1),(24,-13),(29,-15.5),(17.1,-18.5),(21.3,-21.3),
(7.2,-7.8),(7.7,-7.5),(8.3,-8.1),(9,-8.3),(9.4,-8.9),(8.5,-8.6),(9.2,-8.6),(9.8,-8.6),
(1.5,-8.2),(2.2,-8.6),(2,-10.2),(3.3,-8.1),(4.2,-9.2),(3.5,-11.2),(2.6,-11.8),(2.2,-10.1),(5.2,-12.4),(5.9,-13),(7.2,-12.4),(8.7,-12.1),(9.4,-12.4),(10.3,-11.8),(11.6,-11.2),(10.9,-14.4),(12,-14.4),(12.2,-15.8),(0.4,-14.4),(5.2,-18.4),(2,-18.4),(3.8,-20.6),(6.8,-21.9),(4.4,-25),(3.5,-25.9),(6.6,-23.5),(10.9,-26.8),(12,-28.1),(12.7,-26.9),(14.2,-27.5),(17.9,-28.4),(15.7,-30.2),(16,-30.2),(11.6,-31.8),(16.4,-32.8),(17,-33.6),(14.4,-34.4),(14.6,-34.7),(16.8,-35.1),(12.2,-35.8),(12.7,-36.8),(10.9,-36),(11.4,-36.3),(10.5,-38),(6.3,-37.9),(8.2,-38.4),(8.2,-40.1),(11.9,-40.3),(12.2,-40),(15.4,-40.6),(15.2,-41.3),(25.4,-33.2),(23.7,-29.4),(24.1,-30.8),(24,-31.1),(25.2,-30.2),(5.7,-33.1),(4.8,-33.6),(5.3,-33.9),(2.8,-34.4),(2.2,-34.4),(7.4,-34.1),(8.2,-34.3),(11.4,-35.1),
(-17.4,1),(-16.5,0.5),(-18,0),(-15.5,0.6),(-16.5,-0.3),(-13.8,0.8),(-17.7,2.5),(-16,3),(-12.2,2),(-13.5,-0.2),(-19.5,-1),(-22.5,1),(-24,-0.5),(-28.5,0.5),(-30.5,0.5),(-34,-1),(-33,0.5),(-10.5,-9.8),(-8.5,-9),(-7.5,-10.5),(-3.4,-11),(-1,-9.5),(-3,-14.5),(-2,-13.5),(-5.5,-15.5),(-7,-16),(8,-19),(10,-18.5),(12,-19.5),(6,-16.5),(5,-15),(3,-15.7),(1,-16),(-0.5,-12),(2.5,-4.5),(4,-3),(9,1),(11,0),(2,6),(4,7.5),(17.5,2.5),(19,5),(21,3.5),(24,2),(18,-1),(23,-1.5),(21,-9),(19,-7)]

# draw order goes with the order of this dict, value is the colour
classes = {
    "black": (black, "black"),
    "magenta": (magenta, "magenta"),
    "yellow": (yellow, "yellow"),
    "lime": (lime, "lime"),
    "cyan": (cyan, "cyan"),
    "blue": (blue, "blue"),
    "orange": (orange, "darkorange"),
    "teal": (teal, "#009999"),
    "darkred": (darkred, "darkred"),
    "green": (green, "green"),
}

frames = []
for name, (pts, colour) in classes.items():
    df = pd.DataFrame(pts, columns=["x", "y"])
    df["label"] = name
    frames.append(df)
data = pd.concat(frames, ignore_index=True)

fig, ax = plt.subplots(figsize=(8.77, 7.03), dpi=100)
sns.scatterplot(data=data, x="x", y="y", hue="label",
                palette={k: v[1] for k, v in classes.items()},
                s=23, linewidth=0, legend=False, ax=ax)
ax.set_xlim(-52.5, 49.2)
ax.set_ylim(-52.3, 54)
ax.set_xticks([-40, -20, 0, 20, 40])
ax.set_yticks([-40, -20, 0, 20, 40])
ax.set_xlabel("")
ax.set_ylabel("")
ax.grid(True)
ax.set_axisbelow(True)
fig.subplots_adjust(left=0.079, right=0.962, top=0.953, bottom=0.077)
fig.savefig("out.png", dpi=100)
